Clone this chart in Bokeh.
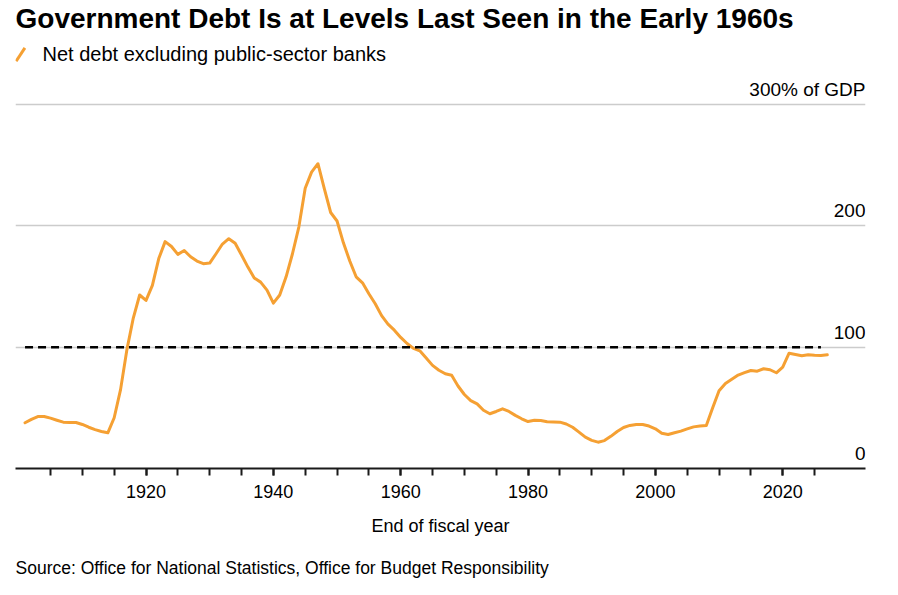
from bokeh.plotting import figure
from bokeh.models import Range1d, FixedTicker, Label
from bokeh.layouts import column
from bokeh.embed import file_html
from bokeh.resources import INLINE

FONT = "Liberation Sans"
ORANGE = "#F5A033"

# ---- data ----
years = list(range(1901, 2028))
net_debt = [
    37.7, 40.5, 42.8, 42.8, 41.5, 39.8, 38.2, 38.0, 37.9, 36.3,      # 1901-1910
    34.0, 32.0, 30.5, 29.4, 41.8, 65.0, 98.0, 124.0, 143.0, 138.5,   # 1911-1920
    150.9, 173.0, 187.0, 183.0, 176.5, 179.7, 174.5, 171.0, 168.8, 169.3,  # 1921-1930
    177.0, 185.0, 189.4, 185.7, 176.0, 166.0, 157.0, 153.6, 147.0, 136.3,  # 1931-1940
    143.0, 158.0, 177.0, 199.0, 231.0, 244.3, 251.2, 230.6, 211.0, 204.0,  # 1941-1950
    186.0, 171.0, 158.0, 153.0, 144.0, 135.8, 126.0, 119.0, 114.0, 108.0,  # 1951-1960
    103.0, 99.0, 97.0, 91.0, 85.0, 81.0, 78.1, 76.8, 68.0, 61.0,     # 1961-1970
    56.0, 53.3, 48.0, 45.1, 47.0, 49.2, 47.0, 43.8, 41.0, 38.7,      # 1971-1980
    39.7, 39.5, 38.5, 38.4, 38.2, 36.7, 34.0, 30.0, 25.8, 23.2,      # 1981-1990
    21.7, 23.0, 26.5, 30.5, 33.8, 35.5, 36.3, 36.3, 35.0, 32.7,      # 1991-2000
    29.0, 28.0, 29.5, 30.8, 32.6, 34.3, 35.0, 35.4, 50.0, 64.0,      # 2001-2010
    70.0, 73.5, 77.0, 79.0, 80.8, 80.2, 82.2, 81.4, 78.9, 83.5,      # 2011-2020
    95.0, 94.0, 93.0, 93.7, 93.3, 93.2, 93.7,                        # 2021-2027
]
ref_years = [1901, 2026]
ref_level = [100, 100]

x_major = [1920, 1940, 1960, 1980, 2000, 2020]
x_minor = [1905, 1910, 1915, 1920, 1925, 1930, 1935, 1940, 1945, 1950, 1955,
           1960, 1965, 1970, 1975, 1980, 1985, 1990, 1995, 2000, 2005, 2010,
           2015, 2020, 2025]
y_grid = [100, 200, 300]
y_label_values = [0, 100, 200, 300]
y_label_texts = ["0", "100", "200", "300% of GDP"]

title_text = "Government Debt Is at Levels Last Seen in the Early 1960s"
legend_text = "Net debt excluding public-sector banks"
x_axis_title = "End of fiscal year"
source_text = "Source: Office for National Statistics, Office for Budget Responsibility"

# ---- main figure ----
W = 882
MAIN_H = 548
SRC_H = 31
FRAME_H = 468
X0, X1 = 1899.5, 2033.0
Y0 = 0
Y1 = FRAME_H / 1.21333
PX_PER_UNIT = FRAME_H / (Y1 - Y0)
PX_PER_YEAR = 850 / (X1 - X0)

p = figure(width=W, height=MAIN_H, output_backend="svg", toolbar_location=None,
           x_range=Range1d(X0, X1), y_range=Range1d(Y0, Y1),
           y_axis_location=None,
           min_border_left=15, min_border_right=17, min_border_top=0,
           min_border_bottom=MAIN_H - FRAME_H)
p.outline_line_color = None
p.background_fill_color = "white"
p.border_fill_color = "white"

p.xgrid.visible = False
p.ygrid.ticker = FixedTicker(ticks=y_grid)
p.ygrid.grid_line_color = "#cccccc"
p.ygrid.grid_line_width = 1.3

ax = p.xaxis[0]
ax.ticker = FixedTicker(ticks=x_major, minor_ticks=x_minor)
ax.axis_line_color = "#1a1a1a"
ax.axis_line_width = 2
ax.major_tick_in = 0
ax.major_tick_out = 7
ax.minor_tick_in = 0
ax.minor_tick_out = 7
ax.major_tick_line_color = "#1a1a1a"
ax.minor_tick_line_color = "#1a1a1a"
ax.major_tick_line_width = 2
ax.minor_tick_line_width = 2
ax.major_label_text_font = FONT
ax.major_label_text_font_size = "18px"
ax.major_label_text_color = "#000000"
ax.major_label_standoff = 9
ax.axis_label = x_axis_title
ax.axis_label_text_font = FONT
ax.axis_label_text_font_size = "18px"
ax.axis_label_text_font_style = "normal"
ax.axis_label_text_color = "#000000"
ax.axis_label_standoff = 15

# data line and reference line
p.line(years, net_debt, line_color=ORANGE, line_width=3,
       line_join="round", line_cap="round")
p.line(ref_years, ref_level, line_color="#000000", line_width=2.5,
       line_dash="8 5")

# right-side value labels (above gridlines)
for v, t in zip(y_label_values, y_label_texts):
    p.add_layout(Label(x=X1, y=v + 15 / PX_PER_UNIT, text=t, text_align="right",
                       text_baseline="alphabetic", text_font=FONT,
                       text_font_size="19px", text_color="#000000"))

# title
p.add_layout(Label(x=X0, y=Y1 - 17.5 / PX_PER_UNIT, text=title_text,
                   text_align="left", text_baseline="alphabetic",
                   text_font=FONT, text_font_style="bold",
                   text_font_size="28px", text_color="#000000"))

# legend
p.scatter(x=[X0 + 5 / PX_PER_YEAR], y=[Y1 - 54 / PX_PER_UNIT], marker="dash",
          size=16, angle=0.99, line_color=ORANGE, line_width=3)
p.add_layout(Label(x=X0 + 27 / PX_PER_YEAR, y=Y1 - 53 / PX_PER_UNIT,
                   text=legend_text, text_align="left",
                   text_baseline="alphabetic", text_font=FONT,
                   text_font_size="20px", text_color="#000000"))

# ---- source strip (same horizontal frame as the main chart) ----
s = figure(width=W, height=SRC_H, output_backend="svg", toolbar_location=None,
           x_range=Range1d(X0, X1), y_range=Range1d(0, SRC_H),
           x_axis_location=None, y_axis_location=None,
           min_border_left=15, min_border_right=17, min_border_top=0,
           min_border_bottom=0)
s.outline_line_color = None
s.xgrid.visible = False
s.ygrid.visible = False
s.background_fill_color = "white"
s.border_fill_color = "white"
s.add_layout(Label(x=X0, y=11.5, text=source_text, text_align="left",
                   text_baseline="alphabetic", text_font=FONT,
                   text_font_size="17.5px", text_color="#000000"))

layout = column(p, s, spacing=0)
open("out.html", "w").write(file_html(layout, INLINE))
